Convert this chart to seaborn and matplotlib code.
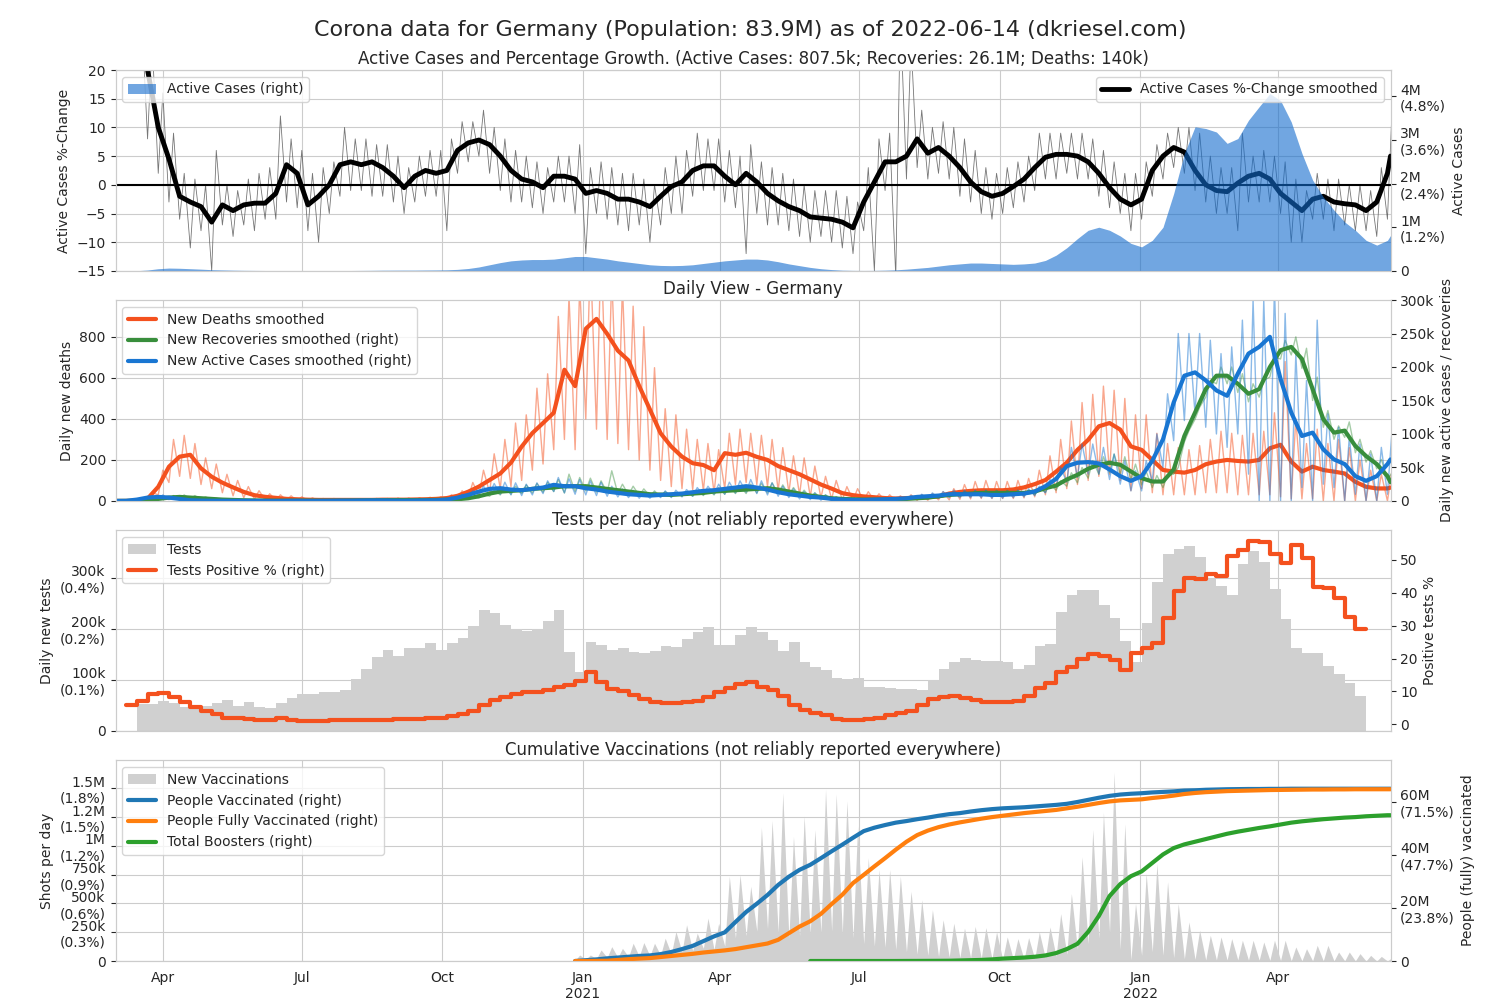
import numpy as np
import pandas as pd
import matplotlib
matplotlib.use("Agg")
import matplotlib.pyplot as plt
import matplotlib.dates as mdates
from matplotlib.ticker import FuncFormatter, MultipleLocator
import seaborn as sns

nan = np.nan
POPULATION = 83.9e6

# one value per week (Sundays from 2020-03-01), last value is 2022-06-14
weeks = pd.date_range("2020-03-01", periods=120, freq="7D")
dates = weeks.append(pd.DatetimeIndex(["2022-06-14"]))

# --- panel 1: active cases and % change ---
pct_smooth = np.array([
    nan, 40, 30, 20, 10, 4.5, -2, -3, -3.8, -6.5,
    -3.5, -4.5, -3.5, -3.2, -3.2, -1.5, 3.5, 2, -3.5, -2,
    0, 3.5, 4, 3.5, 4, 3, 1.5, -0.5, 1.5, 2.5,
    2, 2.5, 6, 7.3, 7.8, 7, 5, 2.5, 1, 0.5,
    -0.5, 1.5, 1.5, 1, -1.5, -1, -1.5, -2.5, -2.5, -3,
    -3.8, -2, -0.3, 0.5, 2.5, 3.3, 3.3, 1.5, 0, 2,
    0.5, -1.5, -2.8, -3.8, -4.5, -5.6, -5.8, -6, -6.5, -7.5,
    -3, 0.5, 4, 4, 5, 8, 5.5, 6.5, 5, 3,
    0.5, -1.2, -2, -1.5, -0.3, 1, 3, 4.8, 5.3, 5.3,
    5, 4, 2, -0.5, -2.5, -3.5, -2.5, 2.5, 5, 6.5,
    5.7, 2.5, 0, -1, -1.2, 0.3, 1.5, 2, 1, -1.5,
    -3, -4.5, -2.5, -2, -3, -3.3, -3.5, -4.5, -3, 2,
    5])
# raw daily %-change: weekly high / low
pct_raw_hi = np.array([
    40, 35, 30, 25, 16, 9, 2, 1, 0, 6,
    0, -1, 1, 2, 3, 12, 8, 6, 2, 3,
    4, 10, 8, 8, 7, 7, 5, 3, 5, 6,
    6, 8, 11, 11, 13, 10, 8, 6, 5, 4,
    3, 5, 5, 7, 3, 4, 3, 2, 2, 1,
    0, 3, 5, 6, 9, 8, 8, 6, 5, 7,
    4, 3, 2, 1, 0, -1, -1, -1, -2, -3,
    3, 8, 9, 30, 25, 13, 10, 11, 10, 8,
    6, 3, 2, 3, 4, 5, 9, 9, 9, 9,
    9, 8, 6, 4, 2, 2, 4, 7, 9, 10,
    10, 9, 5, 3, 3, 9, 5, 6, 5, 4,
    1, -1, 2, 1, 1, 0, 0, -1, 3, 13])
pct_raw_lo = np.array([
    30, 25, 20, 8, 2, -3, -6, -11, -8, -15,
    -7, -9, -7, -8, -6, -6, -3, -4, -8, -10,
    -5, -2, -1, -1, -2, -2, -3, -5, -3, -2,
    -2, -8, 2, 4, 5, 2, -1, -3, -3, -4,
    -5, -3, -3, -5, -12, -5, -6, -7, -8, -7,
    -10, -7, -5, -5, -2, -1, -1, -3, -4, -12,
    -5, -7, -7, -8, -9, -10, -9, -10, -11, -12,
    -8, -15, -1, -16, 1, 3, 1, 2, 1, -2,
    -3, -5, -6, -5, -4, -3, -1, 1, 1, 2,
    1, 1, -2, -4, -5, -8, -6, -2, 1, 3,
    2, -1, -3, -5, -5, -8, -3, -3, -3, -5,
    -10, -10, -6, -6, -8, -7, -8, -8, -9, -6])
active_m = np.array([
    0.0001, 0.0008, 0.005, 0.02, 0.05, 0.065, 0.06, 0.05, 0.04, 0.028,
    0.022, 0.017, 0.013, 0.011, 0.009, 0.007, 0.007, 0.007, 0.006, 0.006,
    0.007, 0.008, 0.009, 0.011, 0.013, 0.016, 0.017, 0.018, 0.018, 0.02,
    0.022, 0.025, 0.035, 0.055, 0.09, 0.14, 0.19, 0.23, 0.25, 0.26,
    0.26, 0.27, 0.3, 0.33, 0.33, 0.3, 0.27, 0.23, 0.2, 0.17,
    0.14, 0.125, 0.12, 0.125, 0.14, 0.17, 0.2, 0.23, 0.25, 0.27,
    0.27, 0.25, 0.21, 0.16, 0.12, 0.08, 0.05, 0.03, 0.017, 0.012,
    0.01, 0.012, 0.017, 0.025, 0.04, 0.06, 0.08, 0.11, 0.14, 0.16,
    0.18, 0.18, 0.17, 0.16, 0.15, 0.16, 0.18, 0.24, 0.36, 0.53,
    0.74, 0.93, 1.0, 0.93, 0.8, 0.63, 0.55, 0.7, 1.0, 1.77,
    2.69, 3.3, 3.26, 3.18, 2.92, 3.03, 3.45, 3.76, 4.06, 3.9,
    3.41, 2.69, 2.08, 1.69, 1.39, 1.12, 0.93, 0.7, 0.59, 0.7,
    0.81])

# --- panel 2: daily view ---
deaths_smooth = np.array([
    0, 0, 1, 11, 69, 167, 216, 225, 159, 118,
    89, 66, 44, 28, 20, 15, 10, 8, 6, 5,
    5, 5, 5, 5, 5, 6, 6, 6, 7, 8,
    10, 14, 25, 45, 70, 102, 134, 187, 265, 331,
    380, 430, 640, 560, 840, 888, 815, 733, 685, 560,
    446, 330, 265, 216, 184, 175, 150, 233, 225, 235,
    215, 200, 170, 150, 130, 105, 80, 60, 38, 28,
    22, 18, 14, 12, 14, 15, 18, 22, 36, 44,
    49, 52, 52, 52, 56, 66, 82, 102, 143, 187,
    249, 298, 364, 380, 348, 266, 249, 200, 151, 143,
    138, 151, 179, 192, 200, 195, 192, 200, 257, 274,
    192, 143, 167, 151, 143, 134, 93, 69, 61, 61,
    65])
deaths_raw_hi = np.array([
    0, 1, 5, 40, 150, 300, 320, 280, 210, 180,
    130, 100, 70, 50, 35, 30, 25, 20, 15, 12,
    12, 10, 10, 10, 12, 12, 14, 14, 15, 18,
    20, 30, 50, 90, 150, 230, 300, 380, 420, 550,
    620, 900, 1000, 1050, 1200, 1250, 1100, 1050, 950, 850,
    650, 450, 420, 350, 300, 280, 250, 330, 350, 330,
    320, 300, 260, 220, 210, 170, 120, 100, 70, 60,
    45, 35, 30, 25, 30, 30, 35, 45, 60, 80,
    95, 100, 95, 95, 100, 110, 150, 220, 300, 390,
    480, 520, 560, 540, 500, 420, 420, 330, 280, 260,
    250, 270, 300, 340, 330, 320, 330, 340, 430, 680,
    400, 280, 350, 280, 300, 260, 200, 150, 130, 150])
deaths_raw_lo = np.array([
    0, 0, 0, 5, 30, 90, 120, 110, 80, 60,
    40, 25, 15, 8, 5, 3, 2, 1, 1, 0,
    0, 0, 0, 0, 0, 1, 1, 1, 1, 2,
    3, 5, 8, 15, 25, 40, 60, 70, 100, 150,
    180, 250, 300, 250, 400, 350, 300, 280, 250, 200,
    150, 100, 70, 60, 55, 50, 40, 60, 80, 90,
    80, 70, 50, 40, 30, 20, 15, 10, 5, 3,
    2, 2, 1, 1, 2, 2, 3, 5, 5, 8,
    10, 12, 12, 12, 12, 15, 20, 30, 40, 60,
    80, 100, 120, 130, 100, 50, 60, 40, 30, 30,
    30, 30, 40, 40, 40, 30, 30, 30, 30, 20,
    10, 10, 10, 0, 0, 0, 0, 0, 0, 0])
# thousands per day
recov_smooth_k = np.array([
    0, 0, 0.2, 1, 3, 5, 6, 5, 4, 3,
    2, 1.5, 1, 0.7, 0.5, 0.4, 0.4, 0.5, 0.5, 0.4,
    0.4, 0.5, 0.6, 0.8, 1, 1.2, 1.3, 1.3, 1.3, 1.4,
    1.6, 2, 2.5, 4, 7, 11, 14, 15, 16, 18,
    19, 20, 22, 22, 22, 20, 18, 16, 14, 12,
    10, 9.5, 9, 10, 11, 12, 14, 15, 16, 17,
    18, 19, 17, 14, 11, 8, 6, 4, 3, 2.5,
    2, 2, 2, 2.5, 3, 4, 5, 7, 9, 10,
    11, 12, 12, 12, 12, 12, 14, 19, 23, 32,
    39, 48, 54, 57, 54, 44, 34, 29, 29, 47,
    97, 132, 167, 187, 187, 175, 160, 167, 200, 225,
    230, 212, 167, 122, 102, 105, 82, 67, 55, 37,
    28])
recov_raw_hi_k = np.array([
    0, 0, 0.5, 2, 5, 8, 9, 8, 6, 4,
    3, 2, 1.5, 1, 0.8, 0.6, 0.6, 0.8, 0.8, 0.6,
    0.6, 0.8, 1, 1.2, 1.5, 1.8, 2, 2, 2, 2.2,
    2.5, 3, 4, 6, 10, 16, 20, 22, 24, 26,
    28, 32, 40, 35, 34, 30, 45, 25, 22, 18,
    15, 14, 13, 14, 16, 18, 20, 22, 23, 25,
    26, 27, 24, 20, 16, 12, 9, 6, 4.5, 3.5,
    3, 3, 3, 3.5, 4.5, 6, 7, 10, 13, 14,
    15, 16, 16, 16, 16, 16, 18, 25, 30, 42,
    50, 60, 66, 70, 66, 55, 44, 38, 38, 50,
    105, 140, 180, 200, 200, 190, 175, 180, 215, 240,
    245, 228, 185, 135, 112, 118, 92, 75, 62, 42])
recov_raw_lo_k = np.array([
    0, 0, 0, 0.5, 2, 3, 4, 3, 2.5, 2,
    1.2, 1, 0.6, 0.4, 0.3, 0.2, 0.2, 0.3, 0.3, 0.2,
    0.2, 0.3, 0.4, 0.5, 0.6, 0.8, 0.8, 0.8, 0.8, 0.9,
    1, 1.2, 1.5, 2.5, 4.5, 7, 9, 10, 11, 12,
    13, 14, 12, 14, 15, 13, 12, 11, 9, 8,
    7, 6, 6, 7, 7, 8, 9, 10, 11, 11,
    12, 12, 11, 9, 7, 5, 4, 2.5, 2, 1.5,
    1.2, 1.2, 1.2, 1.5, 2, 2.5, 3, 4.5, 6, 7,
    7, 8, 8, 8, 8, 8, 9, 13, 16, 22,
    27, 34, 40, 42, 40, 32, 24, 20, 20, 40,
    88, 122, 155, 175, 175, 162, 148, 155, 185, 212,
    218, 198, 150, 110, 92, 95, 72, 58, 48, 32])
new_active_smooth_k = np.array([
    0, 0.2, 2, 5, 6, 5, 3, 1, 0.5, 0.3,
    0.2, 0.2, 0.2, 0.2, 0.1, 0, 0.2, 0.3, 0.1, 0.2,
    0.3, 0.5, 0.5, 0.7, 0.8, 0.8, 0.5, 0.3, 0.5, 0.8,
    1, 2, 5, 9, 14, 18, 19, 17, 16, 18,
    20, 24, 22, 22, 19, 17, 14, 12, 10, 9,
    8, 9, 10, 11, 13, 15, 16, 18, 20, 22,
    20, 17, 13, 10, 8, 6, 5, 3, 2, 1.5,
    1.5, 2, 2.5, 3, 4, 6, 7, 8, 10, 10,
    10, 10, 9, 9, 10, 11, 14, 22, 33, 52,
    57, 58, 56, 47, 37, 30, 37, 60, 92, 147,
    187, 192, 180, 165, 157, 190, 220, 230, 245, 182,
    132, 97, 102, 77, 62, 55, 37, 30, 37, 55,
    62])
new_active_raw_hi_k = np.array([
    0, 1, 4, 8, 9, 8, 6, 3, 2, 2,
    1.5, 1, 1, 1, 1, 1, 1.5, 1.5, 1, 1,
    1.5, 2, 2, 2.5, 3, 3, 2, 2, 3, 3,
    3, 6, 10, 15, 22, 26, 28, 27, 25, 27,
    30, 35, 33, 32, 30, 28, 22, 18, 16, 14,
    13, 15, 16, 17, 20, 22, 25, 28, 30, 32,
    30, 27, 22, 18, 14, 12, 9, 6, 4, 3,
    3, 4, 5, 6, 8, 10, 12, 14, 16, 16,
    16, 16, 15, 15, 16, 18, 22, 32, 50, 80,
    85, 85, 80, 70, 60, 45, 60, 100, 160, 250,
    250, 250, 240, 220, 230, 270, 300, 300, 320, 280,
    220, 180, 270, 130, 110, 95, 85, 70, 80, 105])
new_active_raw_lo_k = np.array([
    0, 0, 1, 2, 3, 2, 1, 0, 0, 0,
    0, 0, 0, 0, 0, 0, 0, 0, 0, 0,
    0, 0, 0, 0, 0, 0, 0, 0, 0, 0,
    0, 0.5, 2, 5, 8, 10, 10, 9, 8, 9,
    11, 14, 12, 10, 9, 8, 7, 6, 5, 4,
    4, 5, 5, 6, 7, 9, 10, 10, 12, 13,
    11, 9, 7, 5, 3, 2, 1, 0.5, 0, 0,
    0, 0.5, 1, 1, 1, 2, 3, 4, 5, 5,
    5, 5, 4, 4, 5, 6, 8, 12, 20, 28,
    35, 40, 40, 32, 25, 15, 15, 30, 50, 90,
    120, 130, 110, 100, 80, 100, 40, 0, 0, 0,
    0, 20, 0, 25, 20, 0, 10, 0, 0, 10])

# --- panel 3: tests (thousands per day, weekly) and positive rate ---
tests_k = np.array([
    nan, nan, 52, 53, 58, 55, 47, 44, 48, 54,
    60, 48, 57, 47, 45, 54, 65, 72, 72, 76,
    76, 80, 101, 122, 145, 159, 148, 163, 163, 173,
    159, 173, 182, 205, 237, 231, 207, 199, 196, 199,
    216, 238, 155, 115, 175, 168, 158, 163, 155, 152,
    157, 166, 165, 181, 194, 203, 168, 168, 188, 204,
    194, 179, 157, 174, 135, 125, 119, 104, 101, 103,
    86, 86, 85, 82, 82, 80, 99, 122, 135, 144,
    139, 138, 138, 135, 122, 129, 166, 170, 233, 266,
    277, 277, 248, 221, 176, 135, 212, 293, 348, 356,
    362, 341, 299, 284, 266, 328, 353, 331, 279, 220,
    162, 152, 153, 127, 112, 94, 68, 0, 0, 0,
    0])
positive_pct = np.array([
    nan, 6, 7, 9.2, 9.5, 8.2, 6.8, 5.2, 4.2, 3,
    2, 1.8, 1.5, 1.3, 1.3, 1.8, 1.2, 1.1, 1.1, 1.1,
    1.2, 1.2, 1.3, 1.3, 1.2, 1.3, 1.5, 1.7, 1.7, 1.8,
    2, 2.5, 3.2, 4, 6, 7.5, 8.3, 9.2, 9.8, 9.8,
    10.3, 11.5, 12, 13.2, 15.8, 13, 10.8, 10, 8.8, 7.8,
    6.7, 6.5, 6.5, 6.7, 7, 8.2, 9.7, 11, 12.3, 12.8,
    11.5, 10.5, 8.5, 6, 4.5, 3.5, 2.7, 1.7, 1.3, 1.2,
    1.5, 2, 2.7, 3.5, 4.2, 6, 7.7, 8.3, 8.7, 8,
    7.5, 6.8, 6.8, 6.8, 7, 8.5, 11, 12.5, 16, 17.5,
    20, 21.3, 20.8, 19.5, 16.5, 21.8, 23.2, 24.7, 32.3, 40.5,
    44.5, 44.2, 45.7, 45, 51, 53, 55.7, 55.5, 51.7, 49,
    54.5, 50.5, 41.7, 41.3, 38.5, 32.5, 29, 29, nan, nan,
    nan])

# --- panel 4: vaccinations ---
# new shots per day (thousands): weekly high / low
vacc_hi_k = np.array([nan] * 43 + [
    52, 52, 96, 125, 110, 154, 160,
    154, 198, 256, 314, 241, 372, 328, 735, 750, 648,
    1160, 1220, 1460, 1080, 1260, 1140, 1490, 1450, 1390, 1170,
    895, 793, 793, 735, 605, 532, 445, 358, 328, 285,
    300, 290, 252, 209, 194, 203, 252, 295, 411, 585,
    904, 1140, 1290, 1640, 1190, 500, 760, 846, 687, 498,
    339, 267, 223, 209, 194, 180, 180, 165, 180, 180,
    122, 107, 136, 136, 78, 78, 64, 49, 40, 30])
vacc_lo_k = np.array([nan] * 43 + [
    5, 15, 20, 30, 30, 35, 40,
    45, 50, 60, 80, 90, 110, 100, 130, 200, 220,
    260, 280, 250, 200, 220, 240, 250, 260, 240, 200,
    150, 130, 120, 100, 80, 60, 50, 40, 35, 30,
    30, 25, 20, 15, 15, 15, 20, 25, 40, 60,
    100, 150, 200, 250, 100, 10, 50, 80, 50, 30,
    20, 15, 10, 10, 10, 10, 8, 8, 6, 5,
    2, 2, 2, 2, 1, 1, 1, 0, 0, 0])
# cumulative, millions
people_vacc_m = np.array([nan] * 43 + [
    0, 0.3, 0.6, 1.0, 1.3, 1.6, 1.9,
    2.1, 2.6, 3.4, 4.5, 5.7, 7.5, 9.3, 10.8, 14.7, 18.5,
    21.6, 24.9, 28.7, 31.8, 34.4, 36.3, 38.8, 41.4, 43.9, 46.5,
    49, 50.3, 51.3, 52.2, 52.8, 53.5, 54.1, 54.8, 55.4, 55.8,
    56.4, 56.9, 57.3, 57.6, 57.8, 58.0, 58.3, 58.6, 58.9, 59.3,
    60.0, 60.8, 61.6, 62.3, 62.8, 63.1, 63.3, 63.6, 63.8, 64.0,
    64.3, 64.4, 64.6, 64.7, 64.8, 64.85, 64.9, 64.9, 64.95, 64.95,
    65, 65, 65, 65, 65, 65, 65, 65, 65, 65,
    65])
fully_vacc_m = np.array([nan] * 43 + [
    0, 0, 0.05, 0.1, 0.4, 0.7, 0.9,
    1.1, 1.5, 1.9, 2.3, 2.7, 3.2, 3.6, 4.0, 4.5, 5.2,
    5.9, 6.6, 8.0, 10.5, 13.0, 15.0, 17.8, 21.5, 25.0, 29.4,
    32.5, 35.7, 38.8, 42.0, 45.0, 47.5, 49.2, 50.5, 51.5, 52.3,
    53.0, 53.7, 54.3, 54.8, 55.3, 55.8, 56.2, 56.6, 57.0, 57.6,
    58.2, 58.9, 59.6, 60.2, 60.6, 60.8, 61.0, 61.5, 61.9, 62.4,
    63.0, 63.4, 63.7, 63.9, 64.1, 64.2, 64.3, 64.4, 64.5, 64.55,
    64.6, 64.65, 64.7, 64.7, 64.75, 64.75, 64.8, 64.8, 64.8, 64.8,
    64.8])
boosters_m = np.array([nan] * 65 + [
    0, 0, 0, 0, 0,
    0, 0, 0, 0, 0.02, 0.03, 0.05, 0.07, 0.1, 0.2,
    0.3, 0.4, 0.6, 0.9, 1.1, 1.3, 1.6, 2.1, 3.0, 4.5,
    6.5, 11, 17, 24.5, 29, 32, 33.8, 37, 40.2, 42.6,
    44.0, 45.0, 46.0, 47.0, 48.0, 48.8, 49.5, 50.2, 50.8, 51.5,
    52.2, 52.7, 53.1, 53.5, 53.8, 54.1, 54.3, 54.6, 54.8, 55.0,
    55.0])

ORANGE = "#f4511e"
GREEN = "#388e3c"
BLUE = "#1976d2"
GRAY = "#d0d0d0"

sns.set_style("whitegrid")
plt.rcParams["font.family"] = ["DejaVu Sans"]


def zigzag(lo, hi):
    """daily series drawn as weekly low (Sunday) / high (mid-week)"""
    x = np.empty(2 * len(weeks), dtype="datetime64[ns]")
    x[0::2] = weeks.values
    x[1::2] = (weeks + pd.Timedelta(days=3)).values
    y = np.empty(2 * len(weeks))
    y[0::2] = lo
    y[1::2] = hi
    keep = ~np.isnan(y)
    return pd.DatetimeIndex(x[keep]), y[keep]


def line(ax, x, y, **kw):
    y = np.asarray(y, dtype=float)
    keep = ~np.isnan(y)
    sns.lineplot(x=x[keep], y=y[keep], ax=ax, estimator=None, legend=False, **kw)
    return ax.lines[-1]


def short(v):
    if abs(v) >= 1e6:
        return f"{v / 1e6:.1f}".rstrip("0").rstrip(".") + "M"
    return f"{v / 1e3:.0f}k"


def with_pct(v, pos=None):
    if v == 0:
        return "0"
    return f"{short(v)}\n({v / POPULATION * 100:.1f}%)"


def plain_k(v, pos=None):
    return "0" if v == 0 else short(v)


def month_label(x, pos=None):
    d = mdates.num2date(x)
    return d.strftime("%b\n%Y") if d.month == 1 else d.strftime("%b")


fig, axes = plt.subplots(4, 1, figsize=(15, 10), dpi=100, sharex=True)
fig.subplots_adjust(left=0.077, right=0.927, top=0.93, bottom=0.039, hspace=0.145)
fig.suptitle("Corona data for Germany (Population: 83.9M) as of 2022-06-14 (dkriesel.com)",
             fontsize=16, y=0.97, va="center")

twins = []
for ax in axes:
    axr = ax.twinx()
    axr.grid(False)
    ax.tick_params(axis="y", left=True, length=3.5)
    axr.tick_params(axis="y", right=True, length=3.5)
    twins.append(axr)

# panel 1
ax, axr = axes[0], twins[0]
x, y = zigzag(pct_raw_lo, pct_raw_hi)
line(ax, x, y, color="#555555", lw=0.6, alpha=0.8)
h_pct = line(ax, dates, pct_smooth, color="black", lw=3.5, label="Active Cases %-Change smoothed")
ax.axhline(0, color="black", lw=1.5)
ax.set_ylim(-15, 20)
ax.yaxis.set_major_locator(MultipleLocator(5))
ax.set_ylabel("Active Cases %-Change")
h_act = axr.fill_between(dates, active_m * 1e6, color="#126bcd", alpha=0.6, lw=0,
                         label="Active Cases (right)")
axr.set_ylim(0, 4.6e6)
axr.yaxis.set_major_locator(MultipleLocator(1e6))
axr.yaxis.set_major_formatter(FuncFormatter(with_pct))
axr.set_ylabel("Active Cases")
leg = axr.legend(handles=[h_act], loc="upper left")
axr.add_artist(leg)
axr.legend(handles=[h_pct], loc="upper right")
ax.set_title("Active Cases and Percentage Growth. (Active Cases: 807.5k; "
             "Recoveries: 26.1M; Deaths: 140k)", fontsize=12, pad=4)

# panel 2
ax, axr = axes[1], twins[1]
x, y = zigzag(deaths_raw_lo, deaths_raw_hi)
line(ax, x, y, color=ORANGE, lw=1, alpha=0.5)
h_d = line(ax, dates, deaths_smooth, color=ORANGE, lw=3, label="New Deaths smoothed")
ax.set_ylim(0, 980)
ax.yaxis.set_major_locator(MultipleLocator(200))
ax.set_ylabel("Daily new deaths")
x, y = zigzag(recov_raw_lo_k * 1e3, recov_raw_hi_k * 1e3)
line(axr, x, y, color=GREEN, lw=1, alpha=0.45)
x, y = zigzag(new_active_raw_lo_k * 1e3, new_active_raw_hi_k * 1e3)
line(axr, x, y, color=BLUE, lw=1, alpha=0.5)
h_r = line(axr, dates, recov_smooth_k * 1e3, color=GREEN, lw=3,
           label="New Recoveries smoothed (right)")
h_a = line(axr, dates, new_active_smooth_k * 1e3, color=BLUE, lw=3,
           label="New Active Cases smoothed (right)")
axr.set_ylim(0, 300000)
axr.yaxis.set_major_locator(MultipleLocator(50000))
axr.yaxis.set_major_formatter(FuncFormatter(plain_k))
axr.set_ylabel("Daily new active cases / recoveries")
axr.legend(handles=[h_d, h_r, h_a], loc="upper left")
ax.set_title("Daily View - Germany", fontsize=12, pad=4)

# panel 3
ax, axr = axes[2], twins[2]
keep = ~np.isnan(tests_k)
h_t = ax.fill_between(dates[keep], tests_k[keep] * 1e3, step="post", color=GRAY, lw=0,
                      label="Tests")
ax.set_ylim(0, 394000)
ax.yaxis.set_major_locator(MultipleLocator(100000))
ax.yaxis.set_major_formatter(FuncFormatter(with_pct))
ax.set_ylabel("Daily new tests")
h_p = line(axr, dates, positive_pct, color=ORANGE, lw=3, drawstyle="steps-post",
           label="Tests Positive % (right)")
axr.set_ylim(-2, 59)
axr.yaxis.set_major_locator(MultipleLocator(10))
axr.set_ylabel("Positive tests %")
axr.legend(handles=[h_t, h_p], loc="upper left")
ax.set_title("Tests per day (not reliably reported everywhere)", fontsize=12, pad=4)

# panel 4
ax, axr = axes[3], twins[3]
x, y = zigzag(vacc_lo_k * 1e3, vacc_hi_k * 1e3)
h_v = ax.fill_between(x, y, color=GRAY, lw=0, label="New Vaccinations")
ax.set_ylim(0, 1.744e6)
ax.yaxis.set_major_locator(MultipleLocator(250000))
ax.yaxis.set_major_formatter(FuncFormatter(with_pct))
ax.set_ylabel("Shots per day")
h_pv = line(axr, dates, people_vacc_m * 1e6, color="#1f77b4", lw=3,
            label="People Vaccinated (right)")
h_fv = line(axr, dates, fully_vacc_m * 1e6, color="#ff7f0e", lw=3,
            label="People Fully Vaccinated (right)")
h_b = line(axr, dates, boosters_m * 1e6, color="#2ca02c", lw=3, label="Total Boosters (right)")
axr.set_ylim(0, 75.8e6)
axr.yaxis.set_major_locator(MultipleLocator(20e6))
axr.yaxis.set_major_formatter(FuncFormatter(with_pct))
axr.set_ylabel("People (fully) vaccinated")
axr.legend(handles=[h_v, h_pv, h_fv, h_b], loc="upper left")
ax.set_title("Cumulative Vaccinations (not reliably reported everywhere)", fontsize=12, pad=4)

for a in list(axes) + twins:
    a.set_xlabel("")
axes[3].set_xlim(pd.Timestamp("2020-03-01"), pd.Timestamp("2022-06-14"))
axes[3].xaxis.set_major_locator(mdates.MonthLocator(bymonth=[1, 4, 7, 10]))
axes[3].xaxis.set_major_formatter(FuncFormatter(month_label))

fig.savefig("out.png", dpi=100)
